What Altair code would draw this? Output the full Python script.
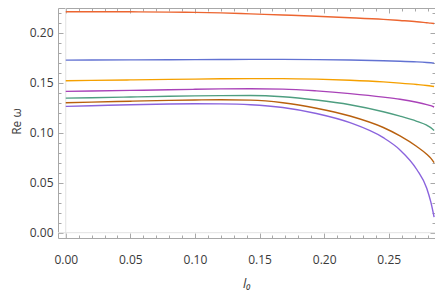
import altair as alt
import pandas as pd

# ---- data ----
l0 = [0.0, 0.02, 0.05, 0.08, 0.10, 0.12, 0.143, 0.168, 0.194, 0.22, 0.2458, 0.2587, 0.2717, 0.2794, 0.2825, 0.2851]

s_red     = [0.2210, 0.2210, 0.2209, 0.2206, 0.2203, 0.2198, 0.2188, 0.2177, 0.2165, 0.2150, 0.2133, 0.2122, 0.2110, 0.2100, 0.2096, 0.2092]
s_blue    = [0.1726, 0.1727, 0.1728, 0.1730, 0.1731, 0.1732, 0.1733, 0.1733, 0.1731, 0.1727, 0.1720, 0.1715, 0.1708, 0.1702, 0.1699, 0.1696]
s_orange  = [0.1520, 0.1523, 0.1528, 0.1533, 0.1536, 0.1539, 0.1541, 0.1541, 0.1536, 0.1525, 0.1508, 0.1496, 0.1482, 0.1472, 0.1467, 0.1462]
s_magenta = [0.1413, 0.1417, 0.1423, 0.1430, 0.1434, 0.1438, 0.1440, 0.1436, 0.1418, 0.1391, 0.1356, 0.1334, 0.1304, 0.1281, 0.1270, 0.1257]
s_green   = [0.1346, 0.1350, 0.1357, 0.1364, 0.1368, 0.1371, 0.1372, 0.1360, 0.1327, 0.1280, 0.1210, 0.1166, 0.1114, 0.1075, 0.1051, 0.1023]
s_brown   = [0.1300, 0.1306, 0.1315, 0.1323, 0.1327, 0.1330, 0.1326, 0.1300, 0.1245, 0.1167, 0.1052, 0.0968, 0.0862, 0.0785, 0.0746, 0.0700]
s_purple  = [0.1263, 0.1270, 0.1280, 0.1287, 0.1289, 0.1288, 0.1280, 0.1252, 0.1192, 0.1100, 0.0950, 0.0828, 0.0632, 0.0445, 0.0310, 0.0156]

names = ["a", "b", "c", "d", "e", "f", "g"]
series = [s_red, s_blue, s_orange, s_magenta, s_green, s_brown, s_purple]
colors = ["#EC6530", "#6272D2", "#F5A000", "#A942B8", "#4E9E80", "#B8600E", "#8A63DD"]

x_major = [0.0, 0.05, 0.10, 0.15, 0.20, 0.25]
y_major = [0.0, 0.05, 0.10, 0.15, 0.20]
x_minor = [round(i * 0.01, 2) for i in range(29)]
y_minor = [round(i * 0.01, 2) for i in range(23)]

rows = []
for n, vals in zip(names, series):
    for x, v in zip(l0, vals):
        rows.append({"l0": x, "v": v, "series": n})
df = pd.DataFrame(rows)

W, H = 377, 230
xs = alt.Scale(domain=[-0.006, 0.2858], nice=False, zero=False)
ys = alt.Scale(domain=[-0.0053, 0.2247], nice=False, zero=False)

FRAME = "#a8a8a8"
LABEL = "#3a3a3a"
FONT = "Open Sans"

base = alt.Chart(df)


def tick_layer(ch, orient, values, size):
    ax = alt.Axis(orient=orient, values=values, tickSize=size, offset=-size,
                  labels=False, domain=False, grid=False, title=None,
                  tickColor=FRAME, tickWidth=1)
    if ch == "x":
        enc = dict(x=alt.X("l0:Q", scale=xs, axis=ax), y=alt.Y("v:Q", scale=ys, axis=None))
    else:
        enc = dict(x=alt.X("l0:Q", scale=xs, axis=None), y=alt.Y("v:Q", scale=ys, axis=ax))
    return base.mark_point(opacity=0).encode(**enc)


ticks = [
    tick_layer("x", "bottom", x_major, 5), tick_layer("x", "bottom", x_minor, 3),
    tick_layer("x", "top", x_major, 5), tick_layer("x", "top", x_minor, 3),
    tick_layer("y", "left", y_major, 5), tick_layer("y", "left", y_minor, 3),
    tick_layer("y", "right", y_major, 5), tick_layer("y", "right", y_minor, 3),
]

zx = alt.Chart(pd.DataFrame({"l0": [0.0]})).mark_rule(color="#e2e2e2", strokeWidth=1).encode(
    x=alt.X("l0:Q", scale=xs, axis=None))
zy = alt.Chart(pd.DataFrame({"v": [0.0]})).mark_rule(color="#e2e2e2", strokeWidth=1).encode(
    y=alt.Y("v:Q", scale=ys, axis=None))

lines = base.mark_line(strokeWidth=1.4, interpolate="monotone", clip=True).encode(
    x=alt.X("l0:Q", scale=xs,
            axis=alt.Axis(orient="bottom", values=x_major, format=".2f", ticks=False, tickSize=0,
                          domain=False, grid=False, labelPadding=21, labelBaseline="middle",
                          labelFont=FONT, labelFontSize=12, labelColor=LABEL,
                          title="l₀", titleFont=FONT, titleFontSize=13, titleFontStyle="italic",
                          titleFontWeight="normal", titleColor=LABEL, titleY=45, titleBaseline="middle")),
    y=alt.Y("v:Q", scale=ys,
            axis=alt.Axis(orient="left", values=y_major, format=".2f", ticks=False, tickSize=0,
                          domain=False, grid=False, labelPadding=5, labelBaseline="middle",
                          labelFont=FONT, labelFontSize=12, labelColor=LABEL,
                          title="Re ω", titleFont=FONT, titleFontSize=12, titleFontWeight="normal",
                          titleColor=LABEL, titleAngle=-90, titleX=-42, titleY=113,
                          titleAlign="center", titleBaseline="middle")),
    color=alt.Color("series:N", scale=alt.Scale(domain=names, range=colors), legend=None),
)

chart = alt.layer(zx, zy, *ticks, lines).resolve_axis(x="independent", y="independent").properties(
    width=W, height=H,
    autosize=alt.AutoSizeParams(type="none"),
    padding={"left": 50, "top": 0, "right": 0, "bottom": 61},
).configure_view(stroke=FRAME, strokeWidth=1)

chart.save("out.html", embed_options={"renderer": "svg", "actions": False})
